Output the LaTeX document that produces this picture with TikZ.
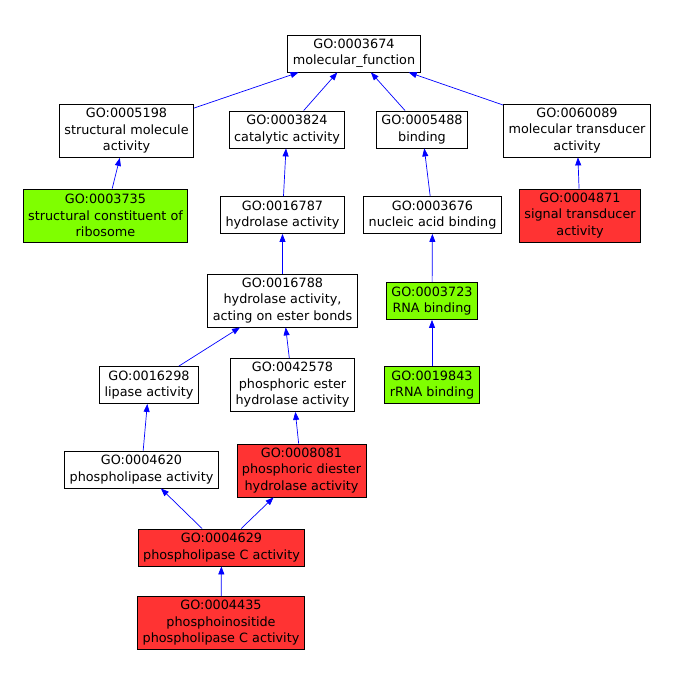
\documentclass[tikz,border=0pt]{standalone}
\usepackage{fontspec}
\setmainfont{DejaVu Sans}
\usetikzlibrary{arrows.meta}
\definecolor{gogreen}{RGB}{127,255,0}
\definecolor{gored}{RGB}{255,51,51}

\begin{document}
\begin{tikzpicture}[x=1pt, y=-1pt, font=\fontsize{12.8}{16.5}\selectfont,
    term/.style={draw, align=center, inner xsep=5pt, inner ysep=1pt, minimum height=37pt, line width=0.8pt},
    term3/.style={term, minimum height=53pt},
    hit/.style={fill=gogreen},
    sig/.style={fill=gored},
    isa/.style={draw=blue, line width=0.7pt, -{Triangle[length=8pt,width=6pt]}}]
    \useasboundingbox (0,0) rectangle (685,686);

    \node[term] (MF) at (354,53.5) {GO:0003674\\molecular\_function};
    \node[term3] (SMA) at (126.5,131) {GO:0005198\\structural molecule\\activity};
    \node[term] (CA) at (287,129.5) {GO:0003824\\catalytic activity};
    \node[term] (BIND) at (422,129.5) {GO:0005488\\binding};
    \node[term3] (MTA) at (577,130.5) {GO:0060089\\molecular transducer\\activity};
    \node[term3, hit] (SCR) at (105.5,215.5) {GO:0003735\\structural constituent of\\ribosome};
    \node[term] (HA) at (282.5,215) {GO:0016787\\hydrolase activity};
    \node[term] (NAB) at (432.5,215) {GO:0003676\\nucleic acid binding};
    \node[term3, sig] (STA) at (580,215.5) {GO:0004871\\signal transducer\\activity};
    \node[term3] (HAE) at (282.5,300.5) {GO:0016788\\hydrolase activity,\\acting on ester bonds};
    \node[term, hit] (RNA) at (432,301) {GO:0003723\\RNA binding};
    \node[term] (LA) at (149,385) {GO:0016298\\lipase activity};
    \node[term3] (PEH) at (292.5,385) {GO:0042578\\phosphoric ester\\hydrolase activity};
    \node[term, hit] (RRNA) at (432,385) {GO:0019843\\rRNA binding};
    \node[term] (PLA) at (141.5,469.5) {GO:0004620\\phospholipase activity};
    \node[term3, sig] (PDH) at (301.5,470.5) {GO:0008081\\phosphoric diester\\hydrolase activity};
    \node[term, sig] (PLC) at (221.5,547.5) {GO:0004629\\phospholipase C activity};
    \node[term3, sig] (PIPLC) at (221,623) {GO:0004435\\phosphoinositide\\phospholipase C activity};

    \path (SMA) edge [isa] (MF)
          (CA) edge [isa] (MF)
          (BIND) edge [isa] (MF)
          (MTA) edge [isa] (MF)
          (SCR) edge [isa] (SMA)
          (HA) edge [isa] (CA)
          (NAB) edge [isa] (BIND)
          (STA) edge [isa] (MTA)
          (HAE) edge [isa] (HA)
          (RNA) edge [isa] (NAB)
          (LA) edge [isa] (HAE)
          (PEH) edge [isa] (HAE)
          (RRNA) edge [isa] (RNA)
          (PLA) edge [isa] (LA)
          (PDH) edge [isa] (PEH)
          (PLC) edge [isa] (PLA)
          (PLC) edge [isa] (PDH)
          (PIPLC) edge [isa] (PLC);
\end{tikzpicture}
\end{document}
